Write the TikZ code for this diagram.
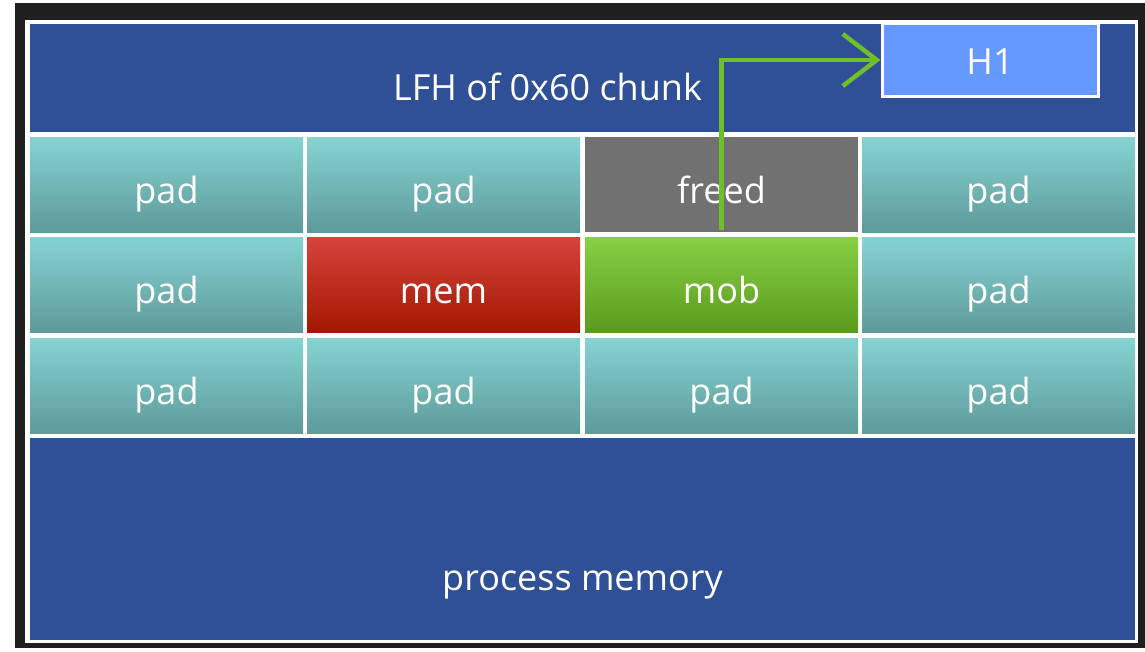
\documentclass[tikz,border=0pt]{standalone}
\usepackage{fontspec}
\setmainfont{Open Sans}
\usetikzlibrary{arrows.meta}
\definecolor{panelblue}{HTML}{2F4F96}
\definecolor{h1blue}{HTML}{6699FF}
\definecolor{padtop}{HTML}{86D3D3}
\definecolor{padbot}{HTML}{5E9A9A}
\definecolor{memtop}{HTML}{D6433C}
\definecolor{membot}{HTML}{A31800}
\definecolor{mobtop}{HTML}{88D044}
\definecolor{mobbot}{HTML}{5A9A1C}
\definecolor{freedgrey}{HTML}{717171}
\definecolor{linkgreen}{HTML}{6FBF2A}
\tikzset{
  lbl/.style={text=white, font=\fontsize{36}{40}\selectfont},
  cellbox/.style={lbl, anchor=north west, minimum width=273pt, minimum height=95pt,
    inner sep=0pt, outer sep=0pt, text height=40pt, text depth=3pt},
  padbox/.style={cellbox, top color=padtop, bottom color=padbot},
  panel/.style={fill=panelblue, draw=none},
  link/.style={draw=linkgreen, line width=4.5pt,
    -{Straight Barb[length=34pt, width=52pt, line width=4.5pt]}}
}
\begin{document}
\begin{tikzpicture}[x=1pt, y=-1pt]
  % page and frame
  \fill[white] (0,0) rectangle (1145,651);
  \useasboundingbox (0,0) rectangle (1145,651);
  \fill[black!88] (15,3) rectangle (1145,648);
  \fill[white] (25,20) rectangle (1138,643);

  % header and footer panels
  \fill[panel] (30,24) rectangle (1135,132);
  \fill[panel] (30,438) rectangle (1135,640);
  \node[lbl, anchor=base] (lfh) at (547.5,100) {LFH of 0x60 chunk};
  \node[lbl, anchor=base] (proc) at (582.5,590) {process memory};

  % H1 block
  \node[draw=white, line width=3pt, fill=h1blue, lbl, anchor=north west,
        minimum width=216pt, minimum height=73pt, inner sep=0pt,
        text height=32pt, text depth=3pt] (h1) at (880.5,22) {H1};

  % row 1
  \node[padbox] (r1c1) at (30,137) {pad};
  \node[padbox] (r1c2) at (307,137) {pad};
  \node[cellbox, fill=freedgrey] (freed) at (585,137) {freed};
  \node[padbox] (r1c4) at (862,137) {pad};
  % row 2
  \node[padbox] (r2c1) at (30,237) {pad};
  \node[cellbox, top color=memtop, bottom color=membot] (mem) at (307,237) {mem};
  \node[cellbox, top color=mobtop, bottom color=mobbot] (mob) at (585,237) {mob};
  \node[padbox] (r2c4) at (862,237) {pad};
  % row 3
  \node[padbox] (r3c1) at (30,338) {pad};
  \node[padbox] (r3c2) at (307,338) {pad};
  \node[padbox] (r3c3) at (585,338) {pad};
  \node[padbox] (r3c4) at (862,338) {pad};

  % link from the freed chunk to H1
  \draw[link] ([yshift=2pt]freed.south) |- (h1.west);
\end{tikzpicture}
\end{document}
